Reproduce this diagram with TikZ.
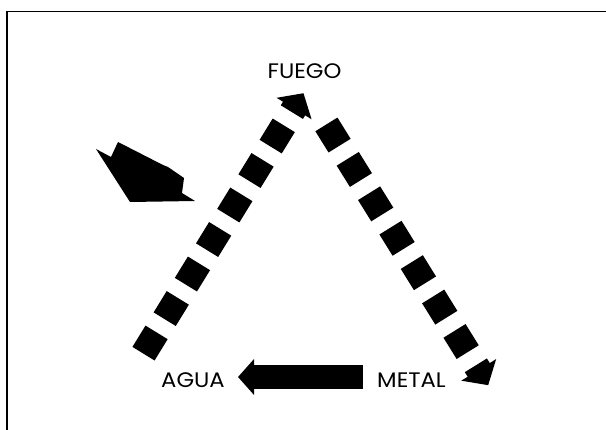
\documentclass[tikz,border=0pt]{standalone}
\usepackage{fontspec}
\newfontfamily\labelfont[FakeStretch=1.08]{Poppins}
\usetikzlibrary{arrows.meta}
\begin{document}
\begin{tikzpicture}[x=1pt,y=-1pt,
  lbl/.style={font=\labelfont\fontsize{21}{22}\selectfont, anchor=base, inner sep=0pt},
  dashline/.style={line width=26pt, line cap=butt, dash pattern=on 25pt off 15.5pt,
    -{Triangle[width=40pt,length=18pt]}},
  solidarrow/.style={line width=24pt, line cap=butt, -{Triangle[width=35pt,length=16pt]}},
  frame/.style={line width=1.5pt}]
\useasboundingbox (0,0) rectangle (606,430);
\fill[white] (0,0) rectangle (606,430);
\draw[frame] (7,430) -- (7,11.5) -- (606,11.5);
% labels
\node[lbl] (fuego) at (304.5,79) {FUEGO};
\node[lbl] (agua) at (193,388) {AGUA};
\node[lbl] (metal) at (411.5,388) {METAL};
% connector end points
\coordinate (agua-out) at (143.5,353.7);
\coordinate (fuego-in) at (303.5,93.2);
\coordinate (fuego-out) at (326.4,124.4);
\coordinate (metal-in) at (488.2,385.2);
\coordinate (metal-out) at (363,377);
\coordinate (agua-in) at (238,377);
% connectors
\draw[dashline] (agua-out) -- (fuego-in);
\draw[dashline] (fuego-out) -- (metal-in);
\draw[solidarrow] (metal-out) -- (agua-in);
% loose arrow shape at left
\fill (96,149) -- (111,157) -- (118,142) -- (163,165) -- (168,167) -- (184,178)
  -- (182,193) -- (195,201) -- (130,202) -- cycle;
\end{tikzpicture}
\end{document}
